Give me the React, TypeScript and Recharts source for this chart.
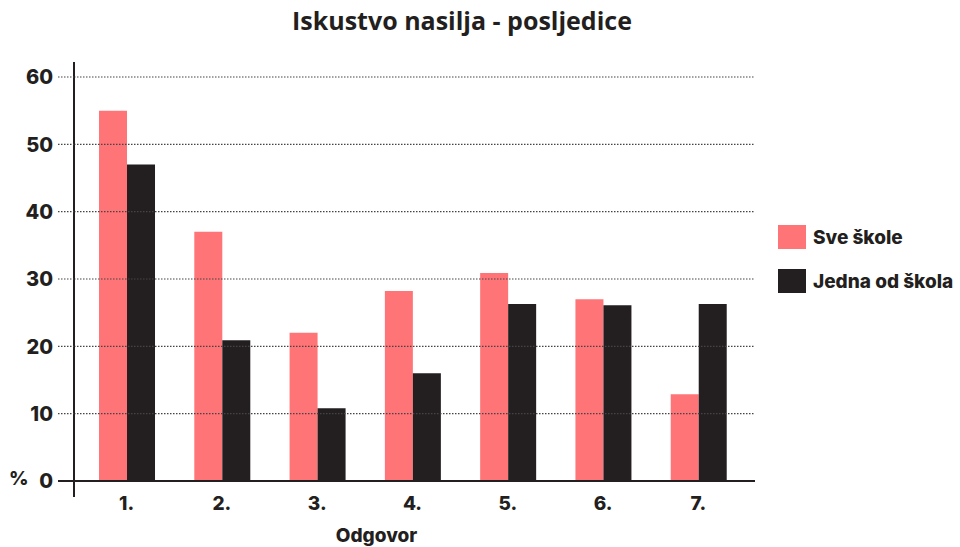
import React from 'react';
import { BarChart, Bar, XAxis, YAxis, ReferenceLine } from 'recharts';

const categories = ['1.', '2.', '3.', '4.', '5.', '6.', '7.'];
const sveSkole = [55, 37, 22, 28.2, 30.9, 27, 12.9];
const jednaOdSkola = [47, 20.9, 10.8, 16, 26.3, 26.1, 26.3];
const yTicks = [0, 10, 20, 30, 40, 50, 60];

const seriesNames = ['Sve škole', 'Jedna od škola'];
const colors = ['#ff7477', '#231f20'];

const data = categories.map((c, i) => ({ name: c, sve: sveSkole[i], jedna: jednaOdSkola[i] }));

const FONT = 'Inter, "Open Sans", sans-serif';
const TITLE_FONT = '"Open Sans", "Noto Sans", sans-serif';
const DARK = '#231f20';

const YTick = (props: any) => {
  const { x, y, payload } = props;
  const isZero = payload.value === 0;
  return (
    <g>
      <line x1={x - 16} x2={x} y1={y} y2={y} stroke={isZero ? DARK : '#444'} strokeWidth={isZero ? 2 : 1.2} strokeDasharray={isZero ? undefined : '1.5 1.5'} />
      <text x={x - 21} y={y} dy="0.36em" textAnchor="end" fontFamily={FONT} fontWeight={800} fontSize={20} fill={DARK}>
        {payload.value}
      </text>
    </g>
  );
};

export default function App() {
  return (
    <div style={{ position: 'absolute', left: 0, top: 0, width: 960, height: 547, background: '#fff', overflow: 'hidden' }}>
      <div style={{ position: 'absolute', left: 0, width: 924, top: 4, textAlign: 'center', fontFamily: TITLE_FONT, fontWeight: 700, fontSize: 25, lineHeight: '32px', color: DARK }}>
        Iskustvo nasilja - posljedice
      </div>
      <div style={{ position: 'absolute', left: 9, top: 467, fontFamily: FONT, fontWeight: 800, fontSize: 19, color: DARK }}>%</div>
      <div style={{ position: 'absolute', left: 0, width: 753, top: 525, textAlign: 'center', fontFamily: FONT, fontWeight: 800, fontSize: 19, lineHeight: '22px', color: DARK }}>Odgovor</div>
      <div style={{ position: 'absolute', left: 778, top: 225, fontFamily: FONT, fontWeight: 800, fontSize: 19, color: DARK }}>
        {seriesNames.map((n, i) => (
          <div key={n} style={{ display: 'flex', alignItems: 'center', height: 24, marginBottom: i === 0 ? 20 : 0 }}>
            <div style={{ width: 28, height: 24, background: colors[i], marginRight: 7 }} />
            <span>{n}</span>
          </div>
        ))}
      </div>
      <BarChart
        width={960}
        height={547}
        data={data}
        margin={{ top: 62, right: 205, bottom: 20, left: 73 }}
        barCategoryGap="21%"
        barGap={0}
      >
        <XAxis
          dataKey="name"
          height={30}
          axisLine={false}
          tickLine={false}
          tickSize={0}
          tickMargin={0}
          padding={{ left: 5, right: 9 }}
          tick={{ fontFamily: FONT, fontWeight: 800, fontSize: 19, fill: DARK }}
        />
        <YAxis
          width={1}
          domain={[0, 60]}
          ticks={yTicks}
          padding={{ top: 15, bottom: 16 }}
          axisLine={{ stroke: DARK, strokeWidth: 2 }}
          tickLine={false}
          tickSize={0}
          tickMargin={0}
          tick={<YTick />}
        />
        {yTicks.filter((t) => t > 0).map((t) => (
          <ReferenceLine key={t} y={t} stroke="#444" strokeWidth={1.2} strokeDasharray="1.5 1.5" />
        ))}
        <Bar dataKey="sve" name={seriesNames[0]} fill={colors[0]} isAnimationActive={false} />
        <Bar dataKey="jedna" name={seriesNames[1]} fill={colors[1]} isAnimationActive={false} />
        <ReferenceLine y={0} stroke={DARK} strokeWidth={2} />
      </BarChart>
    </div>
  );
}
